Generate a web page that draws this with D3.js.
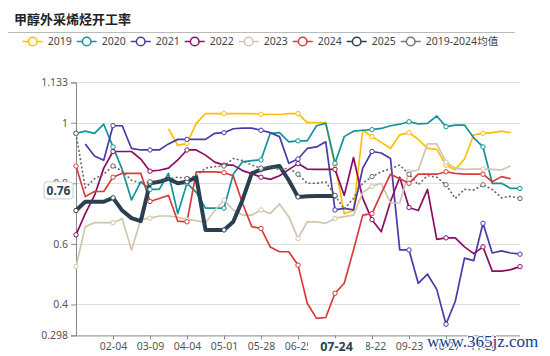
<!DOCTYPE html>
<html><head><meta charset="utf-8">
<script src="https://cdn.jsdelivr.net/npm/d3@7/dist/d3.min.js"></script>
<style>
html,body{margin:0;padding:0;background:#fff;}
svg{display:block;font-family:"Noto Sans","Open Sans",sans-serif;}
</style></head>
<body>
<svg id="chart" width="550" height="356"></svg>
<script>
const title = "甲醇外采烯烃开工率";
const dates = ["01-07","01-14","01-21","01-28","02-04","02-11","02-18","02-28","03-09","03-14","03-21","03-28","04-04","04-11","04-18","04-25","05-01","05-08","05-14","05-21","05-28","06-04","06-11","06-18","06-25","07-02","07-09","07-16","07-24","07-31","08-07","08-14","08-22","08-29","09-05","09-12","09-23","09-30","10-11","10-20","10-27","11-03","11-10","11-17","11-28","12-05","12-12","12-19","12-26"];
const seriesNames = ["2019","2020","2021","2022","2023","2024","2025","2019-2024均值"];
const s2019 = [null,null,null,null,null,null,null,null,null,null,0.98,0.925,0.932,0.998,1.03,1.03,1.03,1.03,1.03,1.03,1.028,1.027,1.027,1.03,1.03,1.0,1.0,1.0,0.86,0.70,0.71,0.975,0.954,0.935,0.915,0.96,0.967,0.945,0.915,0.912,0.86,0.845,0.88,0.96,0.965,0.967,0.972,0.967,null];
const s2020 = [0.965,0.972,0.965,0.995,0.92,0.845,0.745,0.805,0.78,0.78,0.833,0.70,0.80,0.77,0.718,0.718,0.718,0.83,0.871,0.875,0.877,0.965,0.967,0.937,0.94,0.94,0.99,0.998,0.866,0.954,0.972,0.975,0.977,0.981,0.99,0.995,1.003,0.996,0.998,1.022,0.987,0.992,0.992,0.95,0.92,0.80,0.80,0.783,0.783];
const s2021 = [null,0.93,0.89,0.876,0.99,0.99,0.915,0.91,0.91,0.91,0.93,0.945,0.945,0.945,0.945,0.965,0.967,0.98,0.982,0.982,0.975,0.967,0.954,0.866,0.88,0.915,0.92,0.937,0.712,0.717,0.712,0.85,0.905,0.90,0.882,0.58,0.58,0.47,0.50,0.45,0.335,0.41,0.553,0.545,0.668,0.57,0.577,0.57,0.566];
const s2022 = [0.63,0.70,0.76,0.85,0.905,0.905,0.905,0.88,0.84,0.843,0.85,0.877,0.91,0.91,0.893,0.87,0.86,0.86,0.842,0.832,0.82,0.813,0.825,0.845,0.865,0.847,0.846,0.846,0.846,0.76,0.885,0.75,0.68,0.64,0.74,0.82,0.72,0.71,0.78,0.615,0.62,0.62,0.59,0.568,0.59,0.51,0.51,0.515,0.525];
const s2023 = [0.525,0.657,0.67,0.67,0.67,0.683,0.58,0.68,0.685,0.692,0.692,0.688,0.68,0.677,0.67,0.71,0.745,0.712,0.695,0.695,0.712,0.70,0.732,0.69,0.618,0.673,0.673,0.668,0.684,0.69,0.695,0.77,0.79,0.80,0.735,0.735,0.838,0.844,0.93,0.93,0.87,0.85,0.846,0.847,0.847,0.846,0.844,0.858,null];
const s2024 = [0.857,0.756,0.773,0.773,0.82,0.833,0.833,0.833,0.74,0.75,0.76,0.675,0.673,0.838,0.838,0.838,0.835,0.825,0.734,0.657,0.651,0.59,0.574,0.574,0.53,0.404,0.354,0.357,0.437,0.47,0.58,0.695,0.70,0.767,0.83,0.815,0.80,0.83,0.83,0.83,0.838,0.833,0.83,0.83,0.83,0.805,0.822,0.815,null];
const s2025 = [0.71,0.739,0.739,0.739,0.752,0.71,0.685,0.675,0.80,0.805,0.815,0.80,0.805,0.82,0.646,0.646,0.646,0.673,0.745,0.833,0.845,0.852,0.857,0.81,0.755,0.757,0.758,0.758,0.758];
const sAvg = [0.965,0.785,0.815,0.83,0.857,0.84,0.81,0.80,0.805,0.81,0.815,0.82,0.816,0.825,0.85,0.855,0.857,0.882,0.875,0.86,0.85,0.855,0.845,0.85,0.83,0.80,0.80,0.805,0.76,0.715,0.75,0.80,0.822,0.838,0.848,0.86,0.83,0.795,0.825,0.82,0.795,0.75,0.78,0.778,0.795,0.78,0.752,0.757,0.75];
const yTicks = [0.298,0.4,0.6,0.8,1,1.133];
const xTickLabels = ["02-04","03-09","04-04","05-01","05-28","06-25","07-24","08-22","09-23","10-27","11-28"];
const pointerDate = "07-24";
const pointerValue = 0.76;

const colors = ["#ffc000","#12939a","#4a3aa8","#8c0d65","#d3c4ae","#d93a3a","#2a3f50","#777777"];
const allSeries = [s2019,s2020,s2021,s2022,s2023,s2024,s2025,sAvg];

const svg = d3.select("#chart");
const x = d3.scalePoint().domain(dates).range([76,520]);
const y = d3.scaleLinear().domain([0.298,1.133]).range([335.4,82.4]);

// title
svg.append("text").attr("x",14).attr("y",24).text(title)
  .attr("font-family","'Noto Sans CJK SC',sans-serif").attr("font-weight","bold")
  .attr("font-size",13).attr("fill","#222");
svg.append("line").attr("x1",8).attr("x2",515).attr("y1",32.5).attr("y2",32.5)
  .attr("stroke","#bbb").attr("stroke-width",1.2);

// legend
const legend = svg.append("g");
seriesNames.forEach((n,k)=>{
  const gx = 22.7 + k*54;
  const g = legend.append("g").attr("transform",`translate(${gx},41.5)`);
  g.append("line").attr("x1",0).attr("x2",20).attr("stroke",colors[k]).attr("stroke-width",1.5);
  g.append("circle").attr("cx",10).attr("r",4.3).attr("fill","#fff").attr("stroke",colors[k]).attr("stroke-width",1.5);
  g.append("text").attr("x",25).attr("y",3.8).text(n).attr("font-size",10.5).attr("fill","#444")
   .attr("font-family","'Noto Sans','Noto Sans CJK SC',sans-serif");
});

// grid
svg.append("g").selectAll("line").data(yTicks.filter(t=>t>0.3)).join("line")
  .attr("x1",76).attr("x2",520).attr("y1",d=>Math.round(y(d))+0.5).attr("y2",d=>Math.round(y(d))+0.5)
  .attr("stroke","#e0e0e0").attr("stroke-width",1.2);

// y axis
const yAxis = d3.axisLeft(y).tickValues(yTicks).tickFormat(d=>String(d)).tickSize(5).tickPadding(3);
const gy = svg.append("g").attr("transform","translate(76,0)").call(yAxis);
gy.select(".domain").attr("stroke","#888");
gy.selectAll(".tick line").attr("stroke","#888");
gy.selectAll(".tick text").attr("font-size",10.5).attr("fill","#555").attr("font-family","'Noto Sans',sans-serif");

// x axis
const xAxis = d3.axisBottom(x).tickValues(xTickLabels).tickSize(4).tickPadding(3);
const gx = svg.append("g").attr("transform",`translate(0,${y(0.298)})`).call(xAxis);
gx.select(".domain").attr("stroke","#888").attr("d",`M76,0.5H520`);
gx.selectAll(".tick line").attr("stroke","#888");
gx.selectAll(".tick text").attr("font-size",10.5).attr("fill","#555").attr("font-family","'Noto Sans',sans-serif");

// lines
const line = d3.line().defined(d=>d!=null).x((d,i)=>x(dates[i])).y(d=>y(d));
const lg = svg.append("g");
allSeries.forEach((s,k)=>{
  const p = lg.append("path").datum(s).attr("d",line).attr("fill","none")
    .attr("stroke",colors[k]).attr("stroke-linejoin","round")
    .attr("stroke-width", k===6 ? 4 : (k===7 ? 1.6 : 1.7));
  if(k===7) p.attr("stroke-dasharray","2,2.2").attr("stroke","#666");
});
allSeries.forEach((s,k)=>{
  lg.append("g").selectAll("circle").data(s.map((v,i)=>({v,i})).filter(d=>d.v!=null && d.i%4===0))
    .join("circle").attr("cx",d=>x(dates[d.i])).attr("cy",d=>y(d.v)).attr("r",2.2)
    .attr("fill","#fff").attr("stroke",k===7?"#666":colors[k]).attr("stroke-width",1);
});

// axis pointer labels
const py = y(pointerValue) - 5;
svg.append("rect").attr("x",44).attr("y",py-8.5).attr("width",29).attr("height",17).attr("rx",3)
  .attr("fill","#fff").attr("stroke","#ccc").attr("stroke-width",1);
svg.append("text").attr("x",58.5).attr("y",py+4.5).attr("text-anchor","middle").text(pointerValue.toFixed(2))
  .attr("font-size",12).attr("font-weight","bold").attr("fill","#2a3f50");
const pxv = x(pointerDate);
svg.append("rect").attr("x",pxv-27).attr("y",y(0.298)+3).attr("width",58).attr("height",20).attr("fill","#fff");
svg.append("text").attr("x",pxv+1.5).attr("y",y(0.298)+16).attr("text-anchor","middle").text(pointerDate)
  .attr("font-size",12.5).attr("font-weight","bold").attr("fill","#2a3f50");

// watermark
svg.append("text").attr("x",427).attr("y",347).text("www.365jz.com")
  .attr("font-family","'Liberation Serif',serif").attr("font-size",17).attr("fill","#1b3a8c")
  .attr("stroke","#fff").attr("stroke-width",2).attr("paint-order","stroke");
</script>
</body></html>
